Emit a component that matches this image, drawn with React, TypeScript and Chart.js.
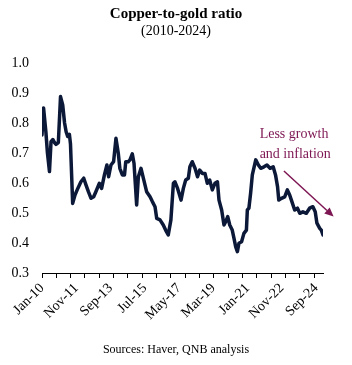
import { useEffect, useRef } from 'react';
import { Chart, registerables } from 'chart.js';

Chart.register(...registerables);

// Months since Jan-2010 (fractional) and copper-to-gold ratio readings
const months = [
  0, 1, 2.5, 3.5, 4.8, 5.8, 7, 8, 9, 10.5, 11.9, 13.3, 14.5, 15.5, 16.5, 17.6, 18.3, 19.7,
  21.2, 23, 25, 26.8, 28.3, 29.8, 31.5, 33.2, 34.6, 36.8, 38.3, 40.1, 41.7, 42.8, 44.3, 46,
  47.5, 49, 50, 51.6, 53, 53.8, 55.4, 56.5, 58, 59.1, 60.8, 61.9, 63.6, 65.1, 67.2, 69.4,
  70.9, 72.6, 73.7, 75.8, 77.9, 79.4, 81.1, 82.8, 84.4, 85.4, 87.1, 89.3, 90.8, 92.3, 94,
  95, 96.5, 98.3, 99.9, 101.3, 103, 104.7, 106.2, 107.7, 109.4, 111.1, 112.7, 113.7, 115.4,
  116.9, 118, 119.3, 120.6, 122.2, 123.3, 124.4, 125.5, 126.5, 128.2, 129.7, 131.3, 131.9,
  132.9, 134, 135.1, 137.3, 139, 140.5, 142.6, 144.5, 146.5, 148.5, 150, 151.3, 152.1, 153.8,
  155.9, 157.6, 159.1, 160.2, 162.3, 164.1, 165.6, 167.6, 169.8, 171.9, 174, 175.5, 176.6,
  178.4, 179.4, 180.5,
];
const ratio = [
  0.76, 0.85, 0.77, 0.7, 0.638, 0.738, 0.745, 0.735, 0.729, 0.735, 0.888, 0.86, 0.8, 0.771,
  0.755, 0.762, 0.73, 0.532, 0.56, 0.582, 0.604, 0.616, 0.593, 0.571, 0.549, 0.554, 0.571,
  0.599, 0.582, 0.627, 0.66, 0.621, 0.66, 0.671, 0.749, 0.699, 0.649, 0.627, 0.627, 0.671,
  0.671, 0.677, 0.697, 0.666, 0.527, 0.621, 0.649, 0.616, 0.571, 0.554, 0.538, 0.521, 0.482,
  0.477, 0.46, 0.443, 0.427, 0.477, 0.599, 0.604, 0.582, 0.543, 0.582, 0.61, 0.616, 0.654,
  0.671, 0.649, 0.621, 0.643, 0.632, 0.632, 0.599, 0.61, 0.577, 0.599, 0.604, 0.543, 0.51,
  0.46, 0.471, 0.488, 0.46, 0.443, 0.416, 0.388, 0.371, 0.399, 0.404, 0.432, 0.443, 0.51,
  0.516, 0.566, 0.627, 0.677, 0.66, 0.649, 0.654, 0.66, 0.649, 0.654, 0.627, 0.588, 0.543,
  0.549, 0.554, 0.577, 0.56, 0.543, 0.51, 0.516, 0.499, 0.504, 0.499, 0.516, 0.521, 0.504,
  0.466, 0.449, 0.443, 0.427,
];

const xLabelMonths = [0, 22, 44, 66, 88, 110, 132, 154, 176];
const xLabelText = ['Jan-10', 'Nov-11', 'Sep-13', 'Jul-15', 'May-17', 'Mar-19', 'Jan-21', 'Nov-22', 'Sep-24'];
const yMin = 0.3;
const yMax = 1.0;
const yStep = 0.1;

const TITLE = 'Copper-to-gold ratio';
const SUBTITLE = '(2010-2024)';
const SOURCE = 'Sources: Haver, QNB analysis';
const NOTE = ['Less growth', 'and inflation'];

const FONT = "'Liberation Serif', 'Times New Roman', serif";
const LINE_COLOR = '#0b1838';
const NOTE_COLOR = '#7d1652';

const TICK_STEP = 280 / 30.4375; // tick marks every 40 weeks
const tickMarks = Array.from({ length: 20 }, (_, k) => k * TICK_STEP);

export default function App() {
  const ref = useRef<HTMLCanvasElement | null>(null);

  useEffect(() => {
    document.body.style.margin = '0';
    const canvas = ref.current;
    if (!canvas) return;

    const labelMap = new Map<number, string>();
    xLabelMonths.forEach((m, i) => labelMap.set(m, xLabelText[i]));
    const tickSet = new Set<number>(tickMarks);

    const textPlugin = {
      id: 'texts',
      afterDraw(chart: any) {
        const ctx = chart.ctx;
        const W = chart.width;
        ctx.save();
        ctx.fillStyle = '#000';
        ctx.textAlign = 'center';
        ctx.textBaseline = 'middle';
        ctx.font = `bold 15px ${FONT}`;
        ctx.fillText(TITLE, W / 2, 14);
        ctx.font = `14px ${FONT}`;
        ctx.fillText(SUBTITLE, W / 2, 31);
        ctx.font = `12px ${FONT}`;
        ctx.fillText(SOURCE, W / 2, 350);

        // annotation
        const xs = chart.scales.x;
        const ys = chart.scales.y;
        ctx.fillStyle = NOTE_COLOR;
        ctx.textAlign = 'left';
        ctx.font = `14px ${FONT}`;
        const tx = xs.getPixelForValue(139.8);
        ctx.fillText(NOTE[0], tx, ys.getPixelForValue(0.762));
        ctx.fillText(NOTE[1], tx, ys.getPixelForValue(0.697));

        const x1 = xs.getPixelForValue(155.4);
        const y1 = ys.getPixelForValue(0.64);
        const x2 = xs.getPixelForValue(187.3);
        const y2 = ys.getPixelForValue(0.488);
        const ang = Math.atan2(y2 - y1, x2 - x1);
        const hl = 9;
        const hw = 4;
        const bx = x2 - hl * Math.cos(ang);
        const by = y2 - hl * Math.sin(ang);
        ctx.strokeStyle = NOTE_COLOR;
        ctx.lineWidth = 1.5;
        ctx.beginPath();
        ctx.moveTo(x1, y1);
        ctx.lineTo(bx, by);
        ctx.stroke();
        ctx.beginPath();
        ctx.moveTo(x2, y2);
        ctx.lineTo(bx + hw * Math.sin(ang), by - hw * Math.cos(ang));
        ctx.lineTo(bx - hw * Math.sin(ang), by + hw * Math.cos(ang));
        ctx.closePath();
        ctx.fill();
        ctx.restore();
      },
    };

    const chart = new Chart(canvas, {
      type: 'line',
      data: {
        datasets: [
          {
            data: months.map((m, i) => ({ x: m, y: ratio[i] })),
            borderColor: LINE_COLOR,
            backgroundColor: LINE_COLOR,
            borderWidth: 3.5,
            pointRadius: 0,
            tension: 0,
            borderJoinStyle: 'round',
            borderCapStyle: 'round',
          },
        ],
      },
      options: {
        animation: false,
        responsive: false,
        maintainAspectRatio: false,
        layout: { padding: { top: 63, right: 29, left: 0, bottom: 0 } },
        plugins: {
          legend: { display: false },
          title: { display: false },
          tooltip: { enabled: false },
        },
        scales: {
          x: {
            type: 'linear',
            min: 0,
            max: months[months.length - 1],
            afterBuildTicks: (scale: any) => {
              const vals = Array.from(new Set<number>([...xLabelMonths, ...tickMarks])).sort((a, b) => a - b);
              scale.ticks = vals.map((v) => ({ value: v }));
            },
            afterFit: (scale: any) => {
              scale.height = 92;
            },
            border: { display: true, color: '#000', width: 1 },
            grid: {
              display: true,
              drawOnChartArea: false,
              drawTicks: true,
              tickLength: 5,
              tickWidth: 1,
              tickColor: (ctx: any) => (ctx.tick && tickSet.has(ctx.tick.value) ? '#000' : 'rgba(0,0,0,0)'),
            },
            ticks: {
              autoSkip: false,
              minRotation: 45,
              maxRotation: 45,
              padding: 2,
              color: '#000',
              font: { family: FONT, size: 14 },
              callback: (v: any) => labelMap.get(v as number) ?? '',
            },
          },
          y: {
            type: 'linear',
            min: yMin,
            max: yMax,
            afterFit: (scale: any) => {
              scale.width = 42;
            },
            border: { display: false },
            grid: { display: false, drawTicks: false },
            ticks: {
              stepSize: yStep,
              padding: 13,
              color: '#000',
              font: { family: FONT, size: 14 },
              callback: (v: any) => Number(v).toFixed(1),
            },
          },
        },
      },
      plugins: [textPlugin],
    });

    return () => chart.destroy();
  }, []);

  return (
    <div style={{ width: 352, height: 365 }}>
      <canvas ref={ref} width={352} height={365} style={{ display: 'block', width: 352, height: 365 }} />
    </div>
  );
}
